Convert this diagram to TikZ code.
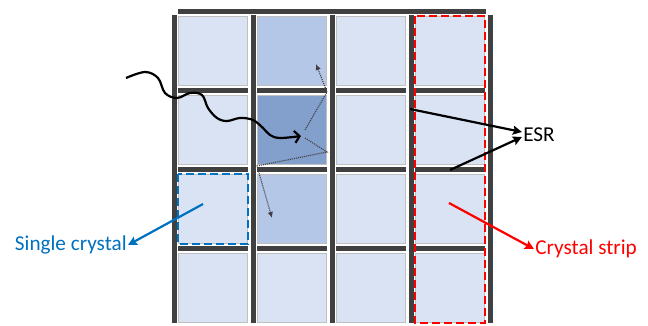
\documentclass[tikz,border=0pt]{standalone}
\usepackage{fontspec}
\setmainfont{Carlito}
\usetikzlibrary{positioning,arrows.meta}
\definecolor{cellpale}{HTML}{DAE3F3}
\definecolor{cellmid}{HTML}{B4C7E7}
\definecolor{celldark}{HTML}{839FCB}
\definecolor{barcol}{HTML}{404040}
\definecolor{stripred}{HTML}{FF0000}
\definecolor{singleblue}{HTML}{0070C0}
\tikzset{every picture/.style={line width=0.75pt}}

\begin{document}
\begin{tikzpicture}[x=1pt, y=-1pt, >={Stealth[length=9pt,width=9pt,inset=1.5pt]},
    cell/.style={draw=gray!50, fill=cellpale, minimum size=69pt, inner sep=0pt, line width=0.9pt},
    cell21/.style={fill=cellmid}, cell22/.style={fill=celldark}, cell23/.style={fill=cellmid},
    lbl/.style={font=\fontsize{21.2}{25}\selectfont, inner sep=1pt},
    thick arrow/.style={line width=2.2pt, ->},
    scatter/.style={densely dotted, barcol, line width=1.1pt, -{Latex[length=6pt,width=5.5pt]}},
    frame/.style={line width=2.6pt, dash pattern=on 8pt off 4pt}]
    \useasboundingbox (0,0) rectangle (648,325);
    % reflector bars
    \fill[barcol] (178,9) rectangle (486,14);
    \foreach \i in {0,...,4}
        \fill[barcol] ({171.5+79*\i},15) rectangle ({176.5+79*\i},323);
    \foreach \i in {0,...,3}
        \foreach \j in {0,...,2}
            \fill[barcol] ({178+79*\i},{88+79*\j}) rectangle ({248+79*\i},{92.5+79*\j});
    % crystals
    \foreach \i in {1,...,4}
        \foreach \j in {1,...,4}
            \node[cell, cell\i\j/.try] (c\i\j) at ({213+79*(\i-1)}, {51+79*(\j-1)}) {};
    % strip and single crystal
    \draw[frame, stripred] (c41.north west) rectangle (c44.south east);
    \draw[frame, singleblue] (c13.north west) rectangle (c13.south east);
    % incoming photon
    \draw[line width=2.2pt, -{Straight Barb[length=5pt,width=12pt]}] plot[smooth, tension=0.6] coordinates
        {(126,78) (145,72) (158,78) (165,93) (177,98) (190,93) (202,95) (208,108) (217,118)
         (227,121) (240,118) (253,120) (263,128) (270,135) (280,138) (301,136)};
    % scattered light
    \coordinate (hitA) at (305,130);
    \coordinate (bounceA) at (327,92);
    \coordinate (escA) at (316,64);
    \coordinate (hitB) at (305,138);
    \coordinate (bounceB) at (327,152);
    \coordinate (bounceC) at (257,166);
    \coordinate (escB) at (272,218);
    \draw[scatter] (hitA) -- (bounceA) -- (escA);
    \draw[scatter] (hitB) -- (bounceB) -- (bounceC) -- (escB);
    % labels
    \node[lbl] (esr) at (539,135) {ESR};
    \node[lbl, anchor=east, text=singleblue] (single) at (128,245) {Single crystal};
    \node[lbl, anchor=west, text=stripred] (strip) at (534,249) {Crystal strip};
    \coordinate (esrA) at (410,109);
    \coordinate (esrB) at (450,170);
    \coordinate (singleA) at (203,204);
    \coordinate (stripA) at (449,203);
    \draw[thick arrow] (esrA) -- ([yshift=3pt]esr.west);
    \draw[thick arrow] (esrB) -- ([yshift=-2pt]esr.west);
    \draw[thick arrow, singleblue] (singleA) -- (single.east);
    \draw[thick arrow, stripred] (stripA) -- (strip.west);
\end{tikzpicture}
\end{document}
